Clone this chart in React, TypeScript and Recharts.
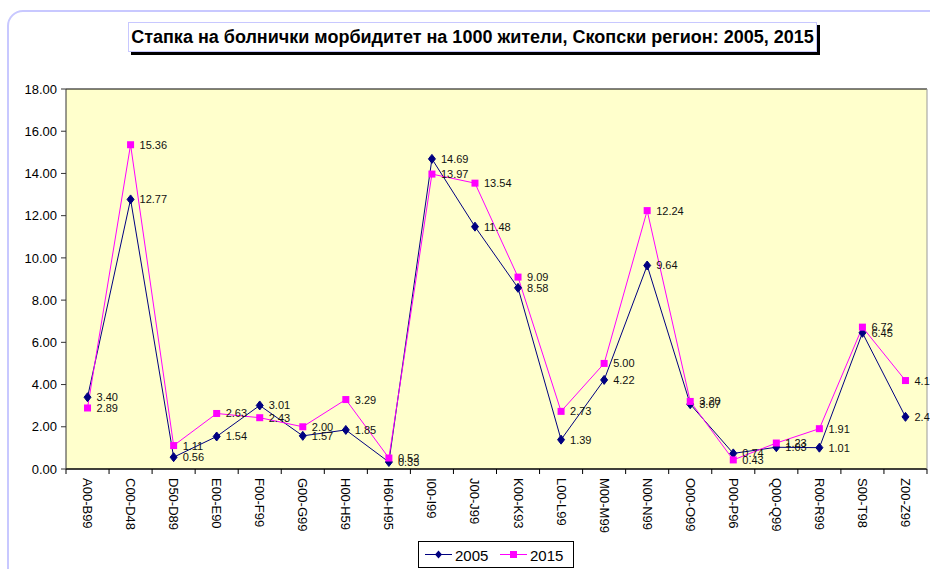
import React from "react";
import {
  LineChart,
  Line,
  XAxis,
  YAxis,
  CartesianGrid,
  LabelList,
} from "recharts";

const categories = [
  "A00-B99", "C00-D48", "D50-D89", "E00-E90", "F00-F99", "G00-G99", "H00-H59",
  "H60-H95", "I00-I99", "J00-J99", "K00-K93", "L00-L99", "M00-M99", "N00-N99",
  "O00-O99", "P00-P96", "Q00-Q99", "R00-R99", "S00-T98", "Z00-Z99",
];
const values2005 = [
  3.4, 12.77, 0.56, 1.54, 3.01, 1.57, 1.85, 0.33, 14.69, 11.48, 8.58, 1.39,
  4.22, 9.64, 3.07, 0.74, 1.03, 1.01, 6.45, 2.47,
];
const values2015 = [
  2.89, 15.36, 1.11, 2.63, 2.43, 2.0, 3.29, 0.52, 13.97, 13.54, 9.09, 2.73,
  5.0, 12.24, 3.2, 0.43, 1.23, 1.91, 6.72, 4.19,
];
const yTicks = [0, 2, 4, 6, 8, 10, 12, 14, 16, 18];

const TITLE = "Стапка на болнички морбидитет на 1000 жители, Скопски регион: 2005, 2015";
const FONT = "Arial, 'Liberation Sans', sans-serif";
const NAVY = "#000080";
const MAGENTA = "#FF00FF";
const PLOT_LEFT = 66;
const PLOT_RIGHT = 927;
const BAND = (PLOT_RIGHT - PLOT_LEFT) / categories.length;

const data = categories.map((c, i) => ({
  cat: c,
  y2005: values2005[i],
  y2015: values2015[i],
}));

// eslint-disable-next-line @typescript-eslint/no-explicit-any
const CatTick = (props: any) => {
  const { x, y, payload, index } = props;
  const last = index === categories.length - 1;
  return (
    <g transform={`translate(${x},${y})`}>
      <line x1={-BAND / 2} y1={0} x2={-BAND / 2} y2={5} stroke="#000" />
      {last && <line x1={BAND / 2} y1={0} x2={BAND / 2} y2={5} stroke="#000" />}
      <text
        transform="translate(0,9) rotate(90)"
        textAnchor="start"
        dominantBaseline="central"
        fontSize={13}
        fontFamily={FONT}
        fill="#000"
      >
        {payload.value}
      </text>
    </g>
  );
};

// eslint-disable-next-line @typescript-eslint/no-explicit-any
const Diamond = (props: any) => {
  const { cx, cy } = props;
  if (cx == null || cy == null) return null;
  return (
    <path
      d={`M${cx},${cy - 4.5} L${cx + 3.5},${cy} L${cx},${cy + 4.5} L${cx - 3.5},${cy} Z`}
      fill={NAVY}
      stroke={NAVY}
    />
  );
};

// eslint-disable-next-line @typescript-eslint/no-explicit-any
const Square = (props: any) => {
  const { cx, cy } = props;
  if (cx == null || cy == null) return null;
  return <rect x={cx - 3.5} y={cy - 3.5} width={7} height={7} fill={MAGENTA} />;
};

// eslint-disable-next-line @typescript-eslint/no-explicit-any
const ValueLabel = (props: any) => {
  const { x, y, value } = props;
  return (
    <text
      x={x + 9}
      y={y}
      dominantBaseline="central"
      fontSize={11}
      fontFamily={FONT}
      fill="#111"
    >
      {Number(value).toFixed(2)}
    </text>
  );
};

function LegendBox() {
  return (
    <svg
      width={156}
      height={27}
      style={{ position: "absolute", left: 418, top: 541 }}
    >
      <rect x={0.5} y={0.5} width={155} height={26} fill="#fff" stroke="#000" />
      <line x1={7} y1={13.5} x2={34} y2={13.5} stroke={NAVY} />
      <path d="M20.5,9.5 L24,13.5 L20.5,17.5 L17,13.5 Z" fill={NAVY} />
      <text x={37} y={14} dominantBaseline="central" fontSize={15} fontFamily={FONT}>
        2005
      </text>
      <line x1={82} y1={13.5} x2={109} y2={13.5} stroke={MAGENTA} />
      <rect x={92} y={10} width={7} height={7} fill={MAGENTA} />
      <text x={112} y={14} dominantBaseline="central" fontSize={15} fontFamily={FONT}>
        2015
      </text>
    </svg>
  );
}

export default function App() {
  return (
    <div
      style={{
        position: "fixed",
        left: 0,
        top: 0,
        width: 930,
        height: 569,
        overflow: "hidden",
        background: "#fff",
        fontFamily: FONT,
      }}
    >
      <div
        style={{
          position: "absolute",
          left: 7,
          top: 10,
          width: 960,
          height: 600,
          border: "2px solid #c8c8ff",
          borderRadius: 16,
          boxSizing: "border-box",
        }}
      />
      <div
        style={{
          position: "absolute",
          left: 128,
          top: 22,
          width: 689,
          height: 30,
          boxSizing: "border-box",
          border: "1px solid #c8c8ff",
          background: "#fff",
          boxShadow: "3px 3px 0 #000",
          display: "flex",
          alignItems: "center",
          justifyContent: "center",
          fontWeight: "bold",
          fontSize: 18,
          color: "#000",
          whiteSpace: "nowrap",
        }}
      >
        {TITLE}
      </div>
      <div style={{ position: "absolute", left: 0, top: 0 }}>
        <LineChart
          width={930}
          height={569}
          data={data}
          margin={{ top: 89, right: 0, left: 0, bottom: 0 }}
        >
          <CartesianGrid
            vertical={false}
            stroke="#000"
            fill="#FFFFCC"
            fillOpacity={1}
          />
          <XAxis
            dataKey="cat"
            height={100}
            interval={0}
            padding={{ left: BAND / 2, right: BAND / 2 }}
            tickSize={0}
            tickMargin={0}
            tick={<CatTick />}
            axisLine={{ stroke: "#000" }}
          />
          <YAxis
            yAxisId="l"
            width={66}
            domain={[0, 18]}
            ticks={yTicks}
            tickFormatter={(v: number) => v.toFixed(2)}
            tick={{ fontSize: 13, fontFamily: FONT, fill: "#000" }}
            tickSize={5}
            tickMargin={4}
            axisLine={{ stroke: "#333" }}
            tickLine={{ stroke: "#333" }}
          />
          <YAxis
            yAxisId="r"
            orientation="right"
            width={3}
            domain={[0, 18]}
            tick={false}
            tickLine={false}
            axisLine={{ stroke: "#999" }}
          />
          <Line
            yAxisId="l"
            dataKey="y2005"
            name="2005"
            stroke={NAVY}
            strokeWidth={1}
            dot={<Diamond />}
            isAnimationActive={false}
          >
            <LabelList dataKey="y2005" content={<ValueLabel />} />
          </Line>
          <Line
            yAxisId="l"
            dataKey="y2015"
            name="2015"
            stroke={MAGENTA}
            strokeWidth={1}
            dot={<Square />}
            isAnimationActive={false}
          >
            <LabelList dataKey="y2015" content={<ValueLabel />} />
          </Line>
        </LineChart>
      </div>
      <LegendBox />
    </div>
  );
}
